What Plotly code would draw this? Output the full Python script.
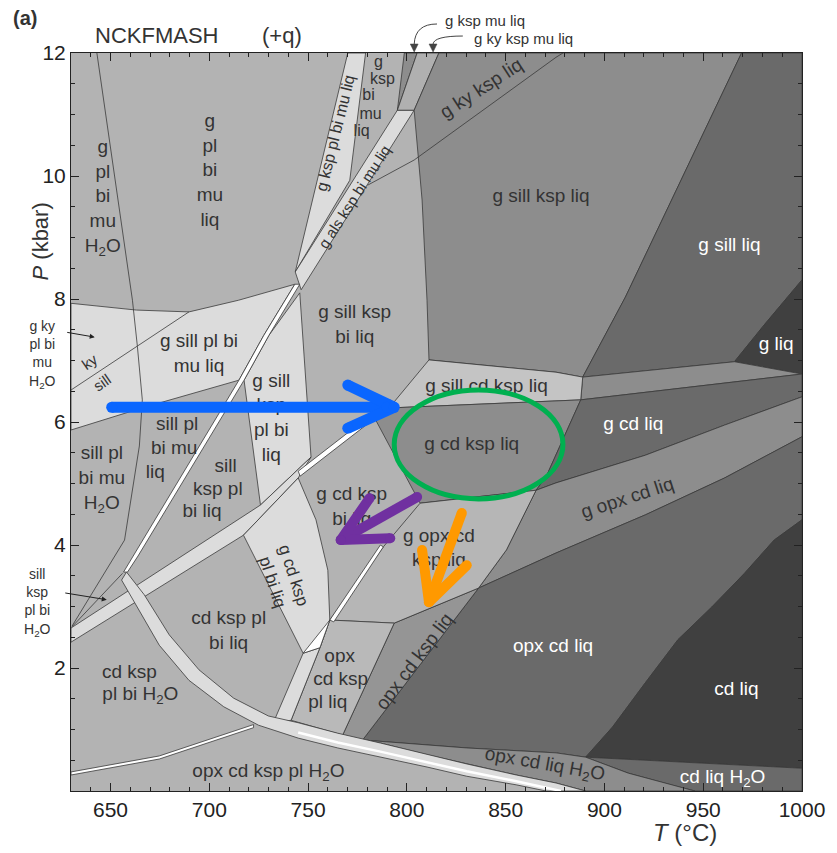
import plotly.graph_objects as go

FONT = "Liberation Sans, Arial, Helvetica, sans-serif"

# ---------------- axes ----------------
T_RANGE = [630, 1000]
P_RANGE = [0, 12]
P_TICKS = [2, 4, 6, 8, 10, 12]

# ---------------- shades ----------------
MID = "#b3b3b3"
LIGHT = "#dcdcdc"
WHITE = "#ffffff"
G140 = "#8d8d8d"
G150 = "#959595"
G105 = "#6a6a6a"
G65 = "#404040"
EDGE = "#3a3a3a"

# ---------------- phase-field outlines (T °C, P kbar) ----------------
FIELD_LIGHT_UPPER_LEFT = [(630, 7.93), (663.1, 7.82), (689.7, 7.79), (714.8, 7.98), (743.3, 8.24),
                          (727.6, 7.41), (715.0, 6.68), (666.1, 6.23), (630, 5.87)]
BAND_B1 = [(770.1, 12), (779.1, 12), (771.1, 9.93), (743.5, 8.44)]
BAND_B2 = [(795.2, 11.07), (803.7, 11.07), (746.5, 8.15), (743.5, 8.44)]
FIELD_G_KSP_MU_LIQ = [(798.7, 12), (805.2, 12), (795.2, 11.07)]
FIELD_G_KY_KSP_MU_LIQ = [(805.2, 12), (816.2, 12), (803.7, 11.07), (795.2, 11.07)]
FIELD_G_ALS_KSP_LIQ = [(816.2, 12), (969.4, 12), (910.6, 8.03), (889.0, 6.73), (875.5, 6.81),
                       (811.2, 7.01), (810.2, 7.98), (807.7, 9.61), (803.7, 11.07)]
FIELD_G_SILL_LIQ = [(969.4, 12), (1000, 12), (1000, 8.31), (980.9, 7.58), (965.8, 6.98),
                    (889.0, 6.73), (910.6, 8.03)]
FIELD_G_LIQ = [(965.8, 6.98), (980.9, 7.58), (1000, 8.31), (1000, 6.78)]
FIELD_G_SILL_CD_LIQ = [(889.0, 6.73), (965.8, 6.98), (1000, 6.78), (888.0, 6.36)]
FIELD_G_SILL_CD_KSP_LIQ = [(792.6, 6.29), (811.2, 7.01), (875.5, 6.81), (889.0, 6.73),
                           (888.0, 6.36), (792.6, 6.23)]
FIELD_G_CD_KSP_LIQ = [(783.6, 6.07), (792.6, 6.23), (888.0, 6.36), (870.5, 5.11),
                      (865.4, 4.89), (806.7, 4.68)]
FIELD_G_CD_LIQ = [(888.0, 6.36), (1000, 6.78), (1000, 6.41), (960.8, 5.95), (920.7, 5.46),
                  (875.5, 5.01), (865.4, 4.89), (870.5, 5.11)]
FIELD_G_OPX_CD_LIQ = [(865.4, 4.89), (875.5, 5.01), (920.7, 5.46), (960.8, 5.95), (1000, 6.41),
                      (1000, 5.76), (960.8, 5.09), (920.7, 4.49), (875.5, 3.87), (836.3, 3.30),
                      (850.4, 3.92)]
FIELD_OPX_CD_LIQ = [(836.3, 3.30), (875.5, 3.87), (920.7, 4.49), (960.8, 5.09), (1000, 5.76),
                    (1000, 4.41), (985.9, 4.08), (970.9, 3.54), (954.3, 2.99), (937.2, 2.46),
                    (920.7, 1.76), (904.1, 1.04), (890.5, 0.55), (875.5, 0.62), (830.3, 0.70),
                    (777.6, 0.83)]
FIELD_CD_LIQ = [(1000, 4.41), (1000, 0.37), (890.5, 0.55), (904.1, 1.04), (920.7, 1.76),
                (937.2, 2.46), (954.3, 2.99), (970.9, 3.54), (985.9, 4.08)]
FIELD_CD_LIQ_H2O = [(890.5, 0.55), (1000, 0.37), (1000, 0), (945.8, 0), (937.2, 0.07), (912.1, 0.29)]
FIELD_OPX_CD_LIQ_H2O = [(777.6, 0.83), (830.3, 0.70), (875.5, 0.62), (890.5, 0.55), (912.1, 0.29),
                        (937.2, 0.07), (945.8, 0), (890.5, 0), (875.5, 0.13), (855.4, 0.26),
                        (830.3, 0.44), (810.2, 0.59), (786.6, 0.78)]
FIELD_OPX_CD_KSP_LIQ = [(793.6, 2.73), (836.3, 3.30), (777.6, 0.83), (767.5, 0.91)]
FIELD_G_OPX_CD_KSP_LIQ = [(806.7, 4.68), (865.4, 4.89), (850.4, 3.92), (836.3, 3.30),
                          (793.6, 2.73), (761.0, 2.78), (788.1, 3.97)]
FIELD_OPX_CD_KSP_PL_LIQ = [(761.0, 2.78), (793.6, 2.73), (767.5, 0.91), (745.0, 1.11),
                           (741.4, 1.15), (756.0, 2.33)]
FIELD_G_SILL_KSP_PL_BI_LIQ = [(745.8, 8.10), (751.5, 5.43), (725.9, 4.65), (717.6, 6.68), (730.2, 7.41)]
BAND_B3 = [(630, 2.65), (725.9, 4.65), (751.5, 5.43), (745.0, 5.09), (717.3, 4.16), (630, 2.42)]
FIELD_G_CD_KSP_PL_BI_LIQ = [(717.3, 4.16), (745.0, 5.09), (754.0, 4.41), (760.0, 3.59),
                            (761.0, 2.78), (756.0, 2.33), (747.5, 2.24)]
BAND_OPX_IN = [(747.5, 2.24), (756.0, 2.33), (741.4, 1.15), (732.4, 1.11)]
WEDGE_WHITE = [(747.5, 2.24), (761.0, 2.78), (756.0, 2.33)]
STRIP_OPX_IN = [(761.0, 2.78), (786.6, 4.00), (788.1, 3.97), (763.0, 2.75)]
STRIP_CD_IN = [(745.0, 5.20), (791.6, 6.36), (792.6, 6.28), (746.0, 5.12)]
# narrow double-lined strip running down from the aluminosilicate bands
BAND_W1_LEFT = [(743.3, 8.24), (727.6, 7.41), (715.0, 6.68), (694.0, 5.56), (673.9, 4.49),
                (661.3, 3.82), (656.6, 3.56)]
BAND_W1_RIGHT = [(745.8, 8.24), (730.2, 7.41), (717.6, 6.68), (696.6, 5.56), (676.5, 4.49),
                 (663.9, 3.82), (658.6, 3.56)]
CURVE_UPPER = [(658.1, 3.56), (667.1, 3.19), (679.7, 2.54), (694.8, 1.97), (712.3, 1.51),
               (729.9, 1.22), (745.0, 1.11), (765.0, 0.94), (786.6, 0.78), (810.2, 0.59),
               (830.3, 0.44), (855.4, 0.26), (875.5, 0.13), (890.5, 0)]
CURVE_LOWER = [(655.6, 3.43), (663.1, 3.02), (674.7, 2.37), (689.7, 1.80), (707.3, 1.37),
               (724.9, 1.07), (745.0, 0.86), (765.0, 0.70), (786.6, 0.55), (810.2, 0.39),
               (830.3, 0.24), (855.4, 0.10), (870.5, 0)]
CURVE_WHITE = [(745.0, 0.95), (765.0, 0.79), (786.6, 0.64), (810.2, 0.47), (830.3, 0.32),
               (855.4, 0.16), (878.0, 0)]
STRIP_OPX_LOW = [(630, 0.31), (674.7, 0.57), (722.4, 1.08), (722.4, 1.03), (674.7, 0.52), (630, 0.26)]

# ---------------- single reaction lines ----------------
LINE_L1 = [(643.1, 12), (661.1, 7.98), (663.6, 7.23), (666.1, 6.36), (664.6, 5.61),
           (657.1, 4.08), (630.5, 2.68)]
LINE_L2 = [(630.5, 2.67), (654.6, 3.48), (656.1, 3.54)]
LINE_KY_SILL_W = [(630, 6.52), (689.7, 7.79)]
LINE_KY_SILL_E = [(780.1, 9.85), (803.7, 10.26), (875.5, 11.93), (879.0, 12)]

# ---------------- path arrows & highlight ----------------
BLUE_SHAFT = [(650.6, 6.24), (790.0, 6.24)]
BLUE_HEAD = [(770.1, 6.60), (793.6, 6.24), (770.1, 5.90)]
PURPLE_SHAFT = [(805.2, 4.78), (766.5, 4.08)]
PURPLE_HEAD = [(781.1, 4.76), (766.5, 4.08), (791.6, 4.11)]
ORANGE_SHAFT = [(827.8, 4.52), (811.2, 3.07)]
ORANGE_HEAD = [(807.7, 3.92), (811.2, 3.07), (830.3, 3.67)]
ELLIPSE_T = [793.6, 879.0]
ELLIPSE_P = [4.75, 6.52]

# ---------------- field labels ----------------
H2O = "H<sub>2</sub>O"
LABELS_SMALL = [
    ("g", 785.6, 11.84), ("ksp", 787.6, 11.56), ("bi", 780.6, 11.30),
    ("mu", 781.6, 11.00), ("liq", 777.1, 10.71),
]
LABELS_DARK = [
    ("g<br>pl<br>bi<br>mu<br>" + H2O, 646.1, 9.65),
    ("g<br>pl<br>bi<br>mu<br>liq", 700.3, 10.07),
    ("g sill ksp liq", 867.9, 9.66),
    ("g sill pl bi<br>mu liq", 694.8, 7.09),
    ("g sill ksp<br>bi liq", 773.6, 7.56),
    ("g sill<br>ksp<br>pl bi<br>liq", 731.4, 6.05),
    ("sill pl", 683.7, 5.95), ("bi mu", 682.2, 5.56), ("liq", 672.7, 5.17),
    ("sill pl<br>bi mu<br>" + H2O, 645.6, 5.07),
    ("sill", 708.3, 5.27), ("ksp pl", 704.3, 4.89), ("bi liq", 696.3, 4.54),
    ("g sill cd ksp liq", 840.3, 6.57),
    ("g cd ksp liq", 832.8, 5.63),
    ("g cd ksp<br>bi liq", 772.1, 4.60),
    ("g opx cd<br>ksp liq", 816.2, 3.93),
    ("cd ksp pl<br>bi liq", 709.8, 2.59),
    ("cd ksp", 659.6, 1.92), ("pl bi " + H2O, 665.1, 1.56),
    ("opx", 766.0, 2.18), ("cd ksp", 766.5, 1.80), ("pl liq", 760.0, 1.43),
    ("opx cd ksp pl " + H2O, 729.9, 0.31),
]
LABELS_WHITE = [
    ("g sill liq", 963.3, 8.85), ("g liq", 986.9, 7.25), ("g cd liq", 914.6, 5.95),
    ("opx cd liq", 874.0, 2.33), ("cd liq", 966.8, 1.64), ("cd liq " + H2O, 959.8, 0.21),
]
LABELS_ROTATED = [
    ("g ksp pl bi mu liq", 764.0, 10.70, -76, 16),
    ("g als ksp bi mu liq", 773.6, 9.66, -57, 15),
    ("g ky ksp liq", 837.3, 11.43, -33, 19),
    ("g opx cd liq", 911.6, 4.78, -18, 19),
    ("g cd ksp<br>pl bi liq", 737.4, 3.46, 72, 17),
    ("opx cd ksp liq", 803.7, 2.10, -53, 19),
    ("opx cd liq " + H2O, 869.9, 0.42, 10, 19),
    ("ky", 639.5, 6.98, -35, 15),
    ("sill", 645.6, 6.65, -35, 15),
]


def closed(pts):
    xs = [p[0] for p in pts] + [pts[0][0]]
    ys = [p[1] for p in pts] + [pts[0][1]]
    return xs, ys


def field(pts, color, edge=EDGE, width=0.8):
    xs, ys = closed(pts)
    return go.Scatter(x=xs, y=ys, mode="lines", fill="toself", fillcolor=color,
                      line=dict(color=edge, width=width), hoverinfo="skip", showlegend=False)


def line(pts, color=EDGE, width=0.8):
    return go.Scatter(x=[p[0] for p in pts], y=[p[1] for p in pts], mode="lines",
                      line=dict(color=color, width=width), hoverinfo="skip", showlegend=False)


def arrow(shaft, head, color, width):
    xs = [p[0] for p in shaft] + [None] + [p[0] for p in head]
    ys = [p[1] for p in shaft] + [None] + [p[1] for p in head]
    return go.Scatter(x=xs, y=ys, mode="lines+markers",
                      line=dict(color=color, width=width),
                      marker=dict(color=color, size=width),
                      hoverinfo="skip", showlegend=False)


def text_marks(labels, size, color):
    return go.Scatter(x=[l[1] for l in labels], y=[l[2] for l in labels],
                      text=[l[0] for l in labels], mode="text", textposition="middle center",
                      textfont=dict(family=FONT, size=size, color=color),
                      hoverinfo="skip", showlegend=False)


def note(x, y, text, size, **kw):
    d = dict(x=x, y=y, xref="paper", yref="paper", text=text, showarrow=False,
             xanchor="center", yanchor="middle",
             font=dict(family=FONT, size=size, color="#333333"))
    d.update(kw)
    return d


fig = go.Figure()

fields = [
    (FIELD_LIGHT_UPPER_LEFT, LIGHT), (BAND_B1, LIGHT), (BAND_B2, LIGHT),
    (FIELD_G_KSP_MU_LIQ, G140), (FIELD_G_KY_KSP_MU_LIQ, "#b0b0b0"),
    (FIELD_G_ALS_KSP_LIQ, G140), (FIELD_G_SILL_LIQ, G105), (FIELD_G_LIQ, G65),
    (FIELD_G_SILL_CD_LIQ, G140), (FIELD_G_SILL_CD_KSP_LIQ, "#c4c4c4"),
    (FIELD_G_CD_KSP_LIQ, G140), (FIELD_G_CD_LIQ, G105), (FIELD_G_OPX_CD_LIQ, G140),
    (FIELD_OPX_CD_LIQ, G105), (FIELD_CD_LIQ, G65), (FIELD_CD_LIQ_H2O, G105),
    (FIELD_OPX_CD_LIQ_H2O, G140), (FIELD_OPX_CD_KSP_LIQ, G150),
    (FIELD_G_OPX_CD_KSP_LIQ, "#b6b6b6"), (FIELD_OPX_CD_KSP_PL_LIQ, "#b9b9b9"),
    (FIELD_G_SILL_KSP_PL_BI_LIQ, LIGHT), (BAND_B3, LIGHT), (FIELD_G_CD_KSP_PL_BI_LIQ, LIGHT),
    (BAND_OPX_IN, LIGHT), (WEDGE_WHITE, WHITE), (STRIP_OPX_IN, WHITE), (STRIP_CD_IN, WHITE),
    (BAND_W1_LEFT + BAND_W1_RIGHT[::-1], WHITE),
    (CURVE_UPPER + CURVE_LOWER[::-1], LIGHT),
    (STRIP_OPX_LOW, WHITE),
]
for pts, col in fields:
    fig.add_trace(field(pts, col))

fig.add_trace(line(CURVE_WHITE, color=WHITE, width=2.5))
for pts in (LINE_L1, LINE_L2, LINE_KY_SILL_W, LINE_KY_SILL_E):
    fig.add_trace(line(pts))

# upright field names as text marks (kept beneath the path arrows)
fig.add_trace(text_marks(LABELS_SMALL, 16, "#333333"))
fig.add_trace(text_marks(LABELS_DARK, 19, "#333333"))
fig.add_trace(text_marks(LABELS_WHITE, 19, "#ffffff"))

# P-T path arrows
fig.add_trace(arrow(BLUE_SHAFT, BLUE_HEAD, "#0a66ff", 11))
fig.add_trace(arrow(PURPLE_SHAFT, PURPLE_HEAD, "#7030a0", 10))
fig.add_trace(arrow(ORANGE_SHAFT, ORANGE_HEAD, "#ff9900", 10))

shapes = [
    dict(type="circle", xref="x", yref="y", x0=ELLIPSE_T[0], x1=ELLIPSE_T[1],
         y0=ELLIPSE_P[0], y1=ELLIPSE_P[1], line=dict(color="#00b050", width=5), layer="above"),
    # curved pointers from the labels above the frame
    dict(type="path", xref="paper", yref="paper", path="M 0.5007 1.0393 Q 0.4708 1.0393 0.4695 1.0122",
         line=dict(color="#444444", width=1)),
    dict(type="path", xref="paper", yref="paper",
         path="M 0.4641 1.0122 L 0.4749 1.0122 L 0.4695 1.0014 Z",
         line=dict(color="#444444", width=0.5), fillcolor="#444444"),
    dict(type="path", xref="paper", yref="paper", path="M 0.5360 1.0230 Q 0.4966 1.0230 0.4953 1.0122",
         line=dict(color="#444444", width=1)),
    dict(type="path", xref="paper", yref="paper",
         path="M 0.4898 1.0122 L 0.5007 1.0122 L 0.4953 1.0014 Z",
         line=dict(color="#444444", width=0.5), fillcolor="#444444"),
]

annotations = []
for text, t, p, ang, size in LABELS_ROTATED:
    annotations.append(dict(x=t, y=p, xref="x", yref="y", text=text, showarrow=False,
                            xanchor="center", yanchor="middle",
                            textangle=ang, font=dict(family=FONT, size=size, color="#333333")))

annotations += [
    note(-0.0624, 1.047, "<b>(a)</b>", 20),
    note(0.030, 1.024, "NCKFMASH", 22, xanchor="left"),
    note(0.259, 1.024, "(+q)", 22, xanchor="left"),
    note(0.566, 1.0447, "g ksp mu liq", 15),
    note(0.619, 1.0203, "g ky ksp mu liq", 15),
    note(-0.039, 0.591, "g ky<br>pl bi<br>mu<br>" + H2O, 14),
    note(-0.046, 0.255, "sill<br>ksp<br>pl bi<br>" + H2O, 14),
    dict(x=642.0, y=7.38, xref="x", yref="y", text="", showarrow=True, ax=-29, ay=-5,
         arrowhead=2, arrowsize=1, arrowwidth=1, arrowcolor="#222222", font=dict(size=10)),
    dict(x=648.1, y=3.11, xref="x", yref="y", text="", showarrow=True, ax=-43, ay=-7,
         arrowhead=2, arrowsize=1, arrowwidth=1, arrowcolor="#222222", font=dict(size=10)),
    note(-0.042, 0.745, "<i>P</i> (kbar)", 22, textangle=-90),
    note(0.840, -0.0556, "<i>T</i> (°C)", 24),
]

fig.update_layout(
    width=837, height=853,
    margin=dict(l=71, r=29, t=53, b=62),
    paper_bgcolor="#ffffff", plot_bgcolor=MID,
    font=dict(family=FONT, color="#333333"),
    shapes=shapes, annotations=annotations,
    xaxis=dict(range=T_RANGE, tickmode="linear", tick0=650, dtick=50,
               ticks="inside", ticklen=8, tickcolor="#222222", showgrid=False, zeroline=False,
               showline=True, linecolor="#222222", linewidth=1, mirror="allticks",
               tickfont=dict(family=FONT, size=21, color="#222222"),
               minor=dict(dtick=10, tick0=630, ticks="inside", ticklen=4, tickcolor="#222222")),
    yaxis=dict(range=P_RANGE, tickmode="array", tickvals=P_TICKS,
               ticks="inside", ticklen=8, tickcolor="#222222", showgrid=False, zeroline=False,
               showline=True, linecolor="#222222", linewidth=1, mirror="allticks",
               tickfont=dict(family=FONT, size=21, color="#222222"),
               minor=dict(dtick=0.5, tick0=0, ticks="inside", ticklen=4, tickcolor="#222222")),
)

fig.write_html("out.html")
